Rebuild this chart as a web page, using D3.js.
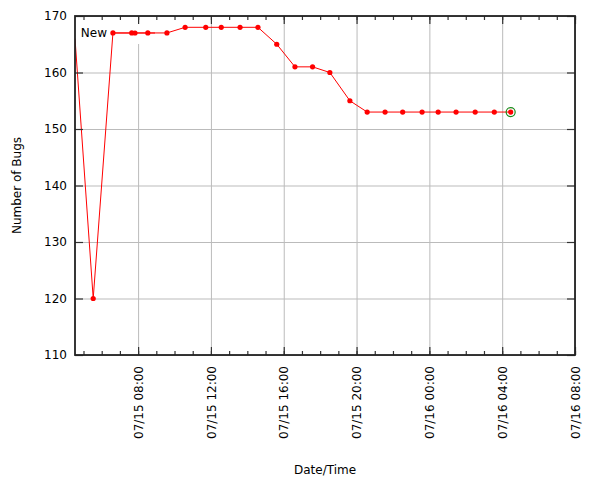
<!DOCTYPE html>
<html>
<head>
  <meta charset="utf-8">
  <title>Number of Bugs</title>
  <style>
  body { margin: 0; background: #fff; }
  text { font-family: "DejaVu Sans", sans-serif; font-size: 12px; fill: #000; }
  .grid line { stroke: #bbb; stroke-width: 1; }
  .grid path { display: none; }
  .ticks line { stroke: #333; stroke-width: 1.2; }
  .ticks path { display: none; }
  </style>
</head>
<body>
  <div id="chart"></div>
  <script src="https://cdn.jsdelivr.net/npm/d3@7"></script>
  <script>
  //data: time of each sample and number of bugs
  var times = [
    "2013-07-15 04:32", "2013-07-15 05:32", "2013-07-15 06:37", "2013-07-15 07:39",
    "2013-07-15 08:32", "2013-07-15 09:35", "2013-07-15 10:35", "2013-07-15 11:43",
    "2013-07-15 12:34", "2013-07-15 13:36", "2013-07-15 14:35", "2013-07-15 15:37",
    "2013-07-15 16:37", "2013-07-15 17:35", "2013-07-15 18:32", "2013-07-15 19:38",
    "2013-07-15 20:35", "2013-07-15 21:34", "2013-07-15 22:32", "2013-07-15 23:36",
    "2013-07-16 00:29", "2013-07-16 01:28", "2013-07-16 02:31", "2013-07-16 03:34",
    "2013-07-16 04:28"
  ];
  var bugs = [166, 120, 167, 167, 167, 167, 168, 168, 168, 168, 168, 165,
              161, 161, 160, 155, 153, 153, 153, 153, 153, 153, 153, 153, 153];
  var seriesName = "New";
  var xEnd = "2013-07-16 08:00";
  var yTicks = [110, 120, 130, 140, 150, 160, 170];

  var parse = d3.utcParse("%Y-%m-%d %H:%M");
  var data = times.map(function(t, i) { return {t: parse(t), v: bugs[i]}; });

  //plot area
  var margin = {left: 75, top: 16};
  var width = 500;
  var height = 339;

  var svg = d3.select("#chart")
  .append("svg")
  .attr("width", 600)
  .attr("height", 480);

  var g = svg.append("g")
  .attr("transform", "translate(" + margin.left + "," + margin.top + ")");

  var x = d3.scaleUtc()
  .domain([data[0].t, parse(xEnd)])
  .range([0, width]);

  var y = d3.scaleLinear()
  .domain([110, 170])
  .range([height, 0]);

  var major = x.ticks(d3.utcHour.every(4));
  var minor = x.ticks(d3.utcHour.every(1));

  //grid lines
  g.append("g")
  .attr("class", "grid")
  .attr("transform", "translate(0," + height + ")")
  .call(d3.axisBottom(x).tickValues(major).tickSize(-height).tickFormat(""));

  g.append("g")
  .attr("class", "grid")
  .call(d3.axisLeft(y).tickValues(yTicks).tickSize(-width).tickFormat(""));

  //key background hides the grid behind it
  g.append("rect")
  .attr("x", 3)
  .attr("y", 6)
  .attr("width", 80)
  .attr("height", 22)
  .attr("fill", "#fff");

  //clip the series to the plot area
  svg.append("clipPath")
  .attr("id", "clip")
  .append("rect")
  .attr("width", width)
  .attr("height", height);

  var line = d3.line()
  .x(function(d) { return x(d.t); })
  .y(function(d) { return y(d.v); });

  var plot = g.append("g").attr("clip-path", "url(#clip)");

  plot.append("path")
  .datum(data)
  .attr("fill", "none")
  .attr("stroke", "#f00")
  .attr("stroke-width", 1)
  .attr("d", line);

  //points that touch the border are not drawn
  plot.selectAll("circle.pt")
  .data(data.filter(function(d) { return x(d.t) > 3; }))
  .enter()
  .append("circle")
  .attr("class", "pt")
  .attr("cx", function(d) { return x(d.t); })
  .attr("cy", function(d) { return y(d.v); })
  .attr("r", 2.6)
  .attr("fill", "#f00");

  //mark the latest value
  var last = data[data.length - 1];
  plot.append("circle")
  .attr("cx", x(last.t))
  .attr("cy", y(last.v))
  .attr("r", 4.5)
  .attr("fill", "none")
  .attr("stroke", "#1a8a1a")
  .attr("stroke-width", 1.2);

  //key
  var key = g.append("g").attr("transform", "translate(0,17)");
  key.append("text")
  .attr("x", 32)
  .attr("dy", "0.35em")
  .attr("text-anchor", "end")
  .text(seriesName);
  key.append("line")
  .attr("x1", 37)
  .attr("x2", 80)
  .attr("stroke", "#f00")
  .attr("stroke-width", 1);
  key.append("circle")
  .attr("cx", 60)
  .attr("r", 2.6)
  .attr("fill", "#f00");

  //ticks, pointing into the plot on all four sides
  g.append("g")
  .attr("class", "ticks")
  .attr("transform", "translate(0," + height + ")")
  .call(d3.axisBottom(x).tickValues(minor).tickSize(-4).tickFormat(""));
  g.append("g")
  .attr("class", "ticks")
  .call(d3.axisTop(x).tickValues(minor).tickSize(-4).tickFormat(""));
  g.append("g")
  .attr("class", "ticks")
  .call(d3.axisTop(x).tickValues(major).tickSize(-8).tickFormat(""));
  g.append("g")
  .attr("class", "ticks")
  .attr("transform", "translate(" + width + ",0)")
  .call(d3.axisRight(y).tickValues(yTicks).tickSize(-8).tickFormat(""));

  var xAxis = g.append("g")
  .attr("class", "ticks")
  .attr("transform", "translate(0," + height + ")")
  .call(d3.axisBottom(x).tickValues(major).tickSize(-8)
    .tickFormat(d3.utcFormat("%m/%d %H:%M")));
  xAxis.selectAll("text")
  .attr("transform", "rotate(-90)")
  .attr("text-anchor", "end")
  .attr("x", -11)
  .attr("y", 0)
  .attr("dy", "0.35em");

  g.append("g")
  .attr("class", "ticks")
  .call(d3.axisLeft(y).tickValues(yTicks).tickSize(-8).tickPadding(8));

  g.selectAll(".ticks text").attr("fill", "#000").style("font-size", "12px");

  //border
  g.append("rect")
  .attr("width", width)
  .attr("height", height)
  .attr("fill", "none")
  .attr("stroke", "#222")
  .attr("stroke-width", 1.8);

  //axis titles
  svg.append("text")
  .attr("x", margin.left + width / 2)
  .attr("y", 474)
  .attr("text-anchor", "middle")
  .text("Date/Time");

  svg.append("text")
  .attr("transform", "translate(21," + (margin.top + height / 2) + ") rotate(-90)")
  .attr("text-anchor", "middle")
  .text("Number of Bugs");
  </script>
</body>
</html>
